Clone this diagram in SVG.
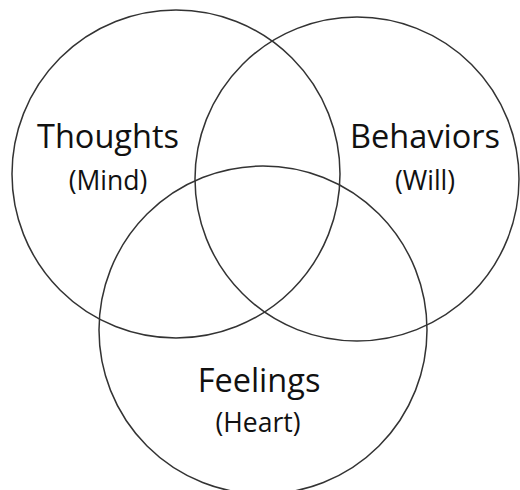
<svg xmlns="http://www.w3.org/2000/svg" width="520" height="490" viewBox="0 0 520 490">
<style>
.c{fill:none;stroke:#333;stroke-width:1.5}
.t{font-family:"Open Sans","Liberation Sans",sans-serif;fill:#111;text-anchor:middle}
.big{font-size:32.5px}
.sm{font-size:26.5px}
</style>
<rect width="520" height="490" fill="#fff"/>
<g id="thoughts">
<circle class="c" cx="176" cy="174" r="164"/>
<text class="t big" x="108" y="148">Thoughts</text>
<text class="t sm" x="108" y="190">(Mind)</text>
</g>
<g id="behaviors">
<circle class="c" cx="357" cy="179" r="162"/>
<text class="t big" x="425" y="148">Behaviors</text>
<text class="t sm" x="425" y="190">(Will)</text>
</g>
<g id="feelings">
<circle class="c" cx="263" cy="330" r="164"/>
<text class="t big" x="259" y="392">Feelings</text>
<text class="t sm" x="258" y="432">(Heart)</text>
</g>
<g id="connectors"/>
</svg>
